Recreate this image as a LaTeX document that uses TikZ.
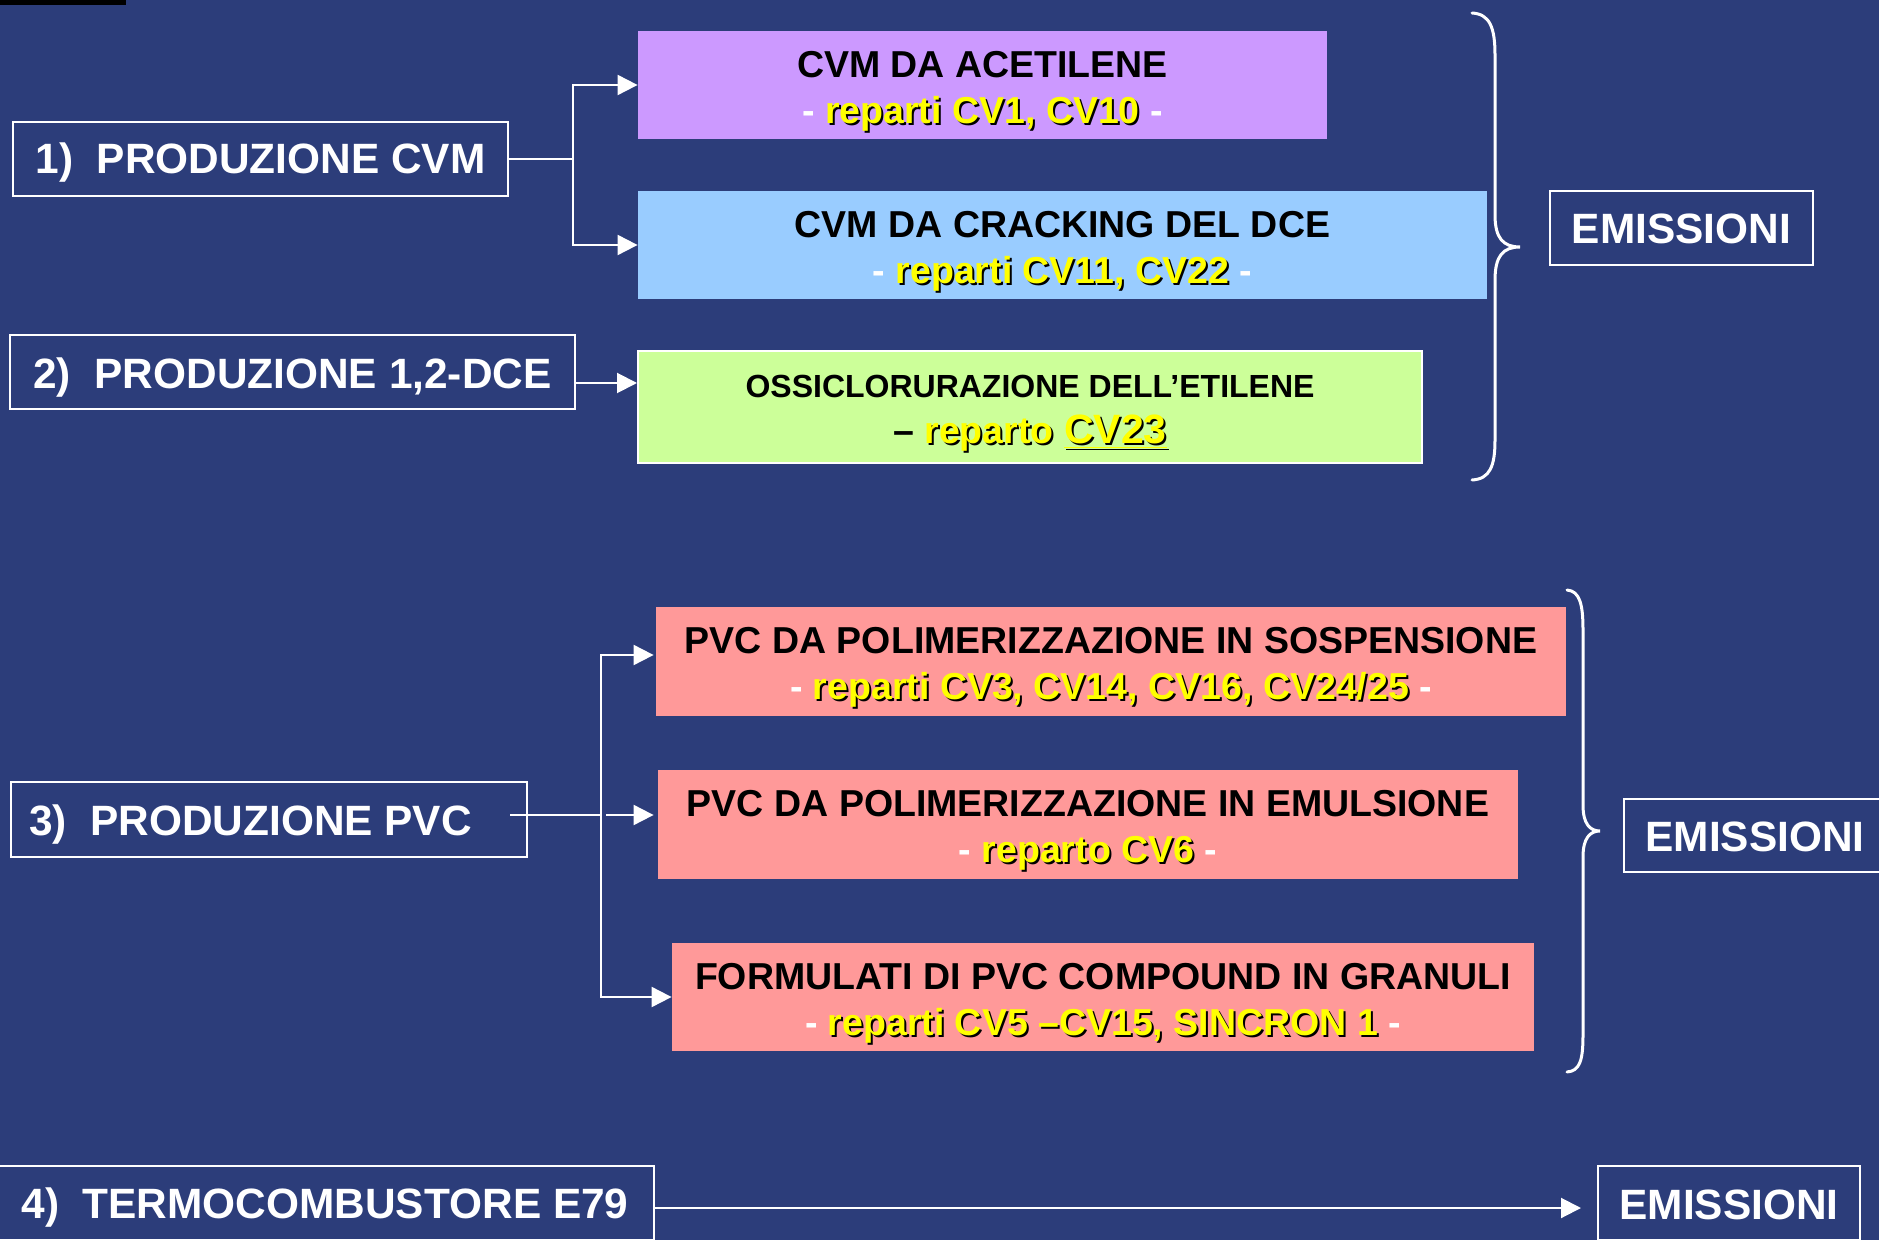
\documentclass[tikz,border=0pt]{standalone}
\usepackage{fontspec}
\setmainfont{Liberation Sans}
\usetikzlibrary{arrows.meta}
\definecolor{bg}{RGB}{44,61,122}
\definecolor{cpurple}{RGB}{204,153,255}
\definecolor{cblue}{RGB}{153,204,255}
\definecolor{cgreen}{RGB}{204,255,153}
\definecolor{cpink}{RGB}{255,153,153}
\definecolor{cyel}{RGB}{255,255,0}
\newcommand\ysh[1]{\makebox[0pt][l]{\kern1pt\raisebox{-1pt}{\color{black}#1}}{\color{cyel}#1}}
\newcommand\wdash{{\color{white}-}}
\newcommand\lowr[2]{\raisebox{-#1}[\height][\depth]{#2}}
\newcommand\twol[2]{\lowr{3pt}{\begin{tabular}{@{}c@{}}#1\\#2\end{tabular}}}
\begin{document}
\begin{tikzpicture}[x=0.5pt,y=-0.5pt,
  hdr/.style={draw=white,line width=1pt,inner sep=0pt,text=white,
    font=\bfseries\fontsize{21.2}{24}\selectfont,minimum height=37pt},
  cbox/.style={inner sep=0pt,align=center,text=black,
    font=\bfseries\fontsize{18.75}{23}\selectfont,minimum height=54pt},
  conn/.style={draw=white,line width=1pt},
  arr/.style={conn,-{Triangle[length=10pt,width=10pt]}},
  brace/.style={draw=white,line width=1.5pt,line cap=round}]
\fill[bg] (0,0) rectangle (1879,1240);
\useasboundingbox (0,0) rectangle (1879,1240);
\fill[black] (0,0) rectangle (126,5);

% left headers
\node[hdr,minimum width=247.5pt] (b1) at (260.5,159) {\lowr{2pt}{1)\ \ PRODUZIONE CVM}};
\node[hdr,minimum width=282.5pt] (b2) at (292.5,372) {\lowr{2.6pt}{2)\ \ PRODUZIONE 1,2-DCE}};
\node[hdr,minimum width=258pt,minimum height=37.5pt] (b3) at (269,819.5) {\lowr{2.4pt}{\makebox[258pt][l]{\hspace{9pt}3)\ \ PRODUZIONE PVC}}};
\node[hdr,minimum width=329pt,minimum height=37pt] (b4) at (325,1203) {\lowr{2.4pt}{4)\ \ TERMOCOMBUSTORE E79}};

% emission boxes
\node[hdr,minimum width=131.5pt] (e1) at (1681.5,228) {\lowr{0.7pt}{EMISSIONI}};
\node[hdr,minimum width=131pt,minimum height=36.5pt] (e2) at (1755,835.5) {\lowr{0.7pt}{EMISSIONI}};
\node[hdr,minimum width=131pt] (e3) at (1729,1203) {\lowr{1pt}{EMISSIONI}};

% coloured boxes
\node[cbox,fill=cpurple,minimum width=344.5pt] (pu) at (982.5,85)
  {\twol{CVM DA ACETILENE}{\wdash{} \ysh{reparti CV1, CV10} \wdash}};
\node[cbox,fill=cblue,minimum width=424.5pt] (bl) at (1062.5,245)
  {\twol{CVM DA CRACKING DEL DCE}{\wdash{} \ysh{reparti CV11, CV22} \wdash}};
\node[cbox,fill=cgreen,draw=white,line width=1pt,minimum width=392pt,minimum height=56pt] (gr) at (1030,407)
  {\lowr{2.4pt}{\begin{tabular}{@{}c@{}}{\fontsize{16}{23}\selectfont OSSICLORURAZIONE DELL’ETILENE}\\– \ysh{reparto {\fontsize{20.5}{23}\selectfont\underline{CV23}}}\end{tabular}}};
\node[cbox,fill=cpink,minimum width=455pt,minimum height=54.5pt] (p1) at (1111,661.5)
  {\twol{PVC DA POLIMERIZZAZIONE IN SOSPENSIONE}{\wdash{} \ysh{reparti CV3, CV14, CV16, CV24/25} \wdash}};
\node[cbox,fill=cpink,minimum width=430pt,minimum height=54.5pt] (p2) at (1088,824.5)
  {\twol{PVC DA POLIMERIZZAZIONE IN EMULSIONE}{\wdash{} \ysh{reparto CV6} \wdash}};
\node[cbox,fill=cpink,minimum width=431pt] (p3) at (1103,997)
  {\twol{FORMULATI DI PVC COMPOUND IN GRANULI}{\wdash{} \ysh{reparti CV5 –CV15, SINCRON 1} \wdash}};

% connectors top
\coordinate (j1) at (573,159);
\draw[conn] (b1.east) -- (j1);
\draw[arr] (j1) |- (pu.west);
\draw[arr] (j1) |- (bl.west);
\coordinate (s2) at (575,383);
\draw[arr] (s2) -- (gr.west |- s2);

% connectors lower
\coordinate (j3) at (601,815);
\coordinate (s3) at (510,815);
\coordinate (m3) at (606,815);
\draw[conn] (s3) -- (j3);
\draw[arr] (j3) |- ([yshift=3.25pt,xshift=-1pt]p1.west);
\draw[arr] (m3) -- ([xshift=-2pt]p2.west |- m3);
\draw[arr] (j3) |- (p3.west);

% bottom arrow
\coordinate (s4) at (654,1208);
\draw[arr] (s4) -- ([xshift=-8pt]e3.west |- s4);

% braces
\draw[brace] (1472,13) .. controls (1490,14) and (1495,28) .. (1495,55) -- (1495,215)
  .. controls (1495,238) and (1503,247) .. (1520,247)
  .. controls (1503,247) and (1495,256) .. (1495,280) -- (1495,440)
  .. controls (1495,466) and (1490,479) .. (1472,480);
\draw[brace] (1567,590) .. controls (1580,591) and (1583,605) .. (1583,630) -- (1583,805)
  .. controls (1583,824) and (1590,831) .. (1600,831)
  .. controls (1590,831) and (1583,838) .. (1583,857) -- (1583,1035)
  .. controls (1583,1060) and (1580,1071) .. (1567,1072);
\end{tikzpicture}
\end{document}
